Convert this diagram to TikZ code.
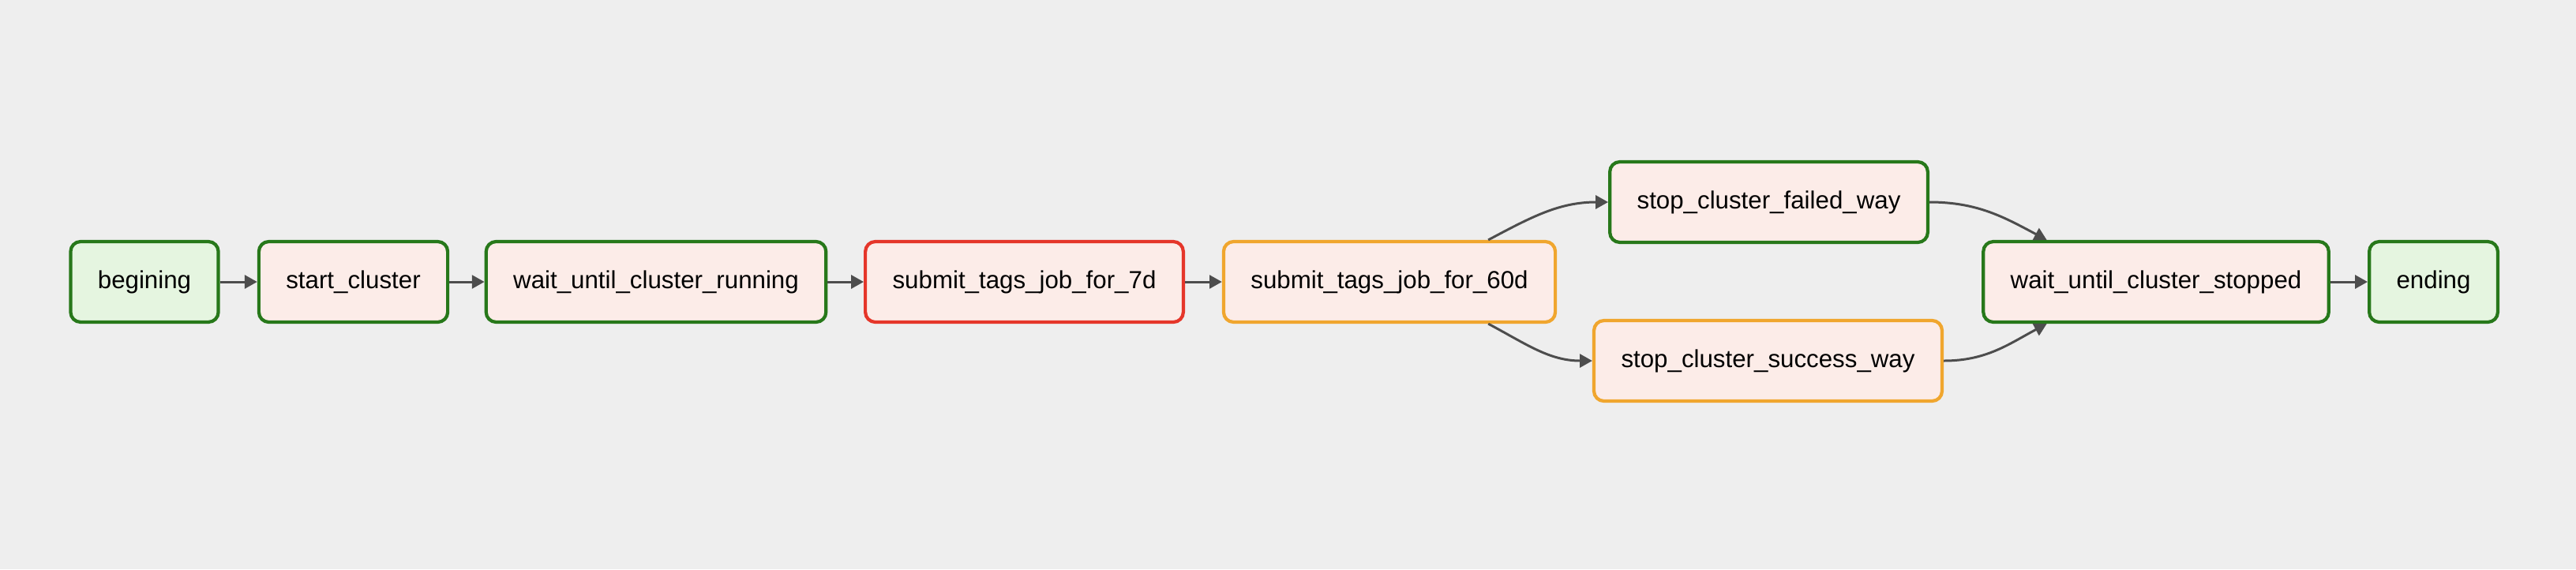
\documentclass[tikz,border=0pt]{standalone}
\usepackage{fontspec}
\setmainfont{Liberation Sans}
\usetikzlibrary{arrows.meta}

\definecolor{bgcol}{HTML}{EEEEEE}
\definecolor{okline}{HTML}{27781A}
\definecolor{failline}{HTML}{E5362A}
\definecolor{upline}{HTML}{F0A62E}
\definecolor{dummyfill}{HTML}{E5F5E0}
\definecolor{taskfill}{HTML}{FCECE8}
\definecolor{edgecol}{HTML}{4D4D4D}

\begin{document}
\begin{tikzpicture}[font=\fontsize{8.9pt}{10pt}\selectfont]

		\tikzstyle{task}=[rectangle, rounded corners=3.6pt, line width=1.2pt, fill=taskfill, text=black, draw, inner xsep=9.8pt, minimum height=1.02cm]
		\tikzstyle{dummy}=[task, fill=dummyfill]
		\tikzstyle{flow}=[-{Triangle[length=4.5pt,width=4.8pt]}, edgecol, line width=0.85pt]

		% background and margins
		\fill[bgcol] (0,0) rectangle (32.63,-7.21);
		\useasboundingbox (0,0) rectangle (32.63,-7.21);

		\node[dummy, draw=okline] (begin) at (1.83,-3.57)  {begining};
		\node[task, draw=okline] (start) at (4.475,-3.57) {start\_cluster};
		\node[task, draw=okline] (running) at (8.31,-3.57) {wait\_until\_cluster\_running};
		\node[task, draw=failline] (job7) at (12.975,-3.57) {submit\_tags\_job\_for\_7d};
		\node[task, draw=upline] (job60) at (17.60,-3.57) {submit\_tags\_job\_for\_60d};

		\node[task, draw=okline] (failed) at (22.405,-2.56) {stop\_cluster\_failed\_way};
		\node[task, draw=upline] (success) at (22.395,-4.57) {stop\_cluster\_success\_way};

		\node[task, draw=okline] (stopped) at (27.31,-3.57) {wait\_until\_cluster\_stopped};
		\node[dummy, draw=okline] (end) at (30.825,-3.57) {ending};

		% main chain
		\draw[flow] (begin) -- (start);
		\draw[flow] (start) -- (running);
		\draw[flow] (running) -- (job7);
		\draw[flow] (job7) -- (job60);

		% branches
		\draw[flow] (job60.23) to[out=28, in=180] (failed.west);
		\draw[flow] (job60.-23) to[out=-28, in=180] (success.west);
		\draw[flow] (failed.east) to[out=0, in=152] (stopped.159);
		\draw[flow] (success.east) to[out=0, in=-152] (stopped.-159);

		\draw[flow] (stopped) -- (end);
\end{tikzpicture}
\end{document}
